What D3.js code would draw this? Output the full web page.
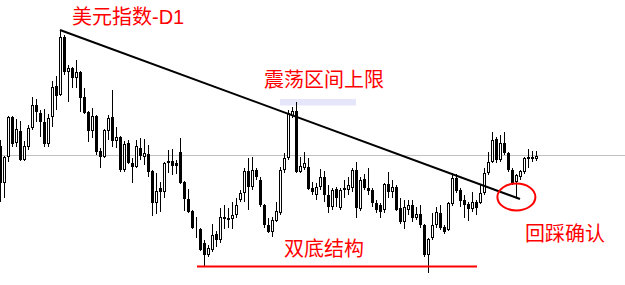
<!DOCTYPE html>
<html lang="zh">
<head>
    <meta charset="utf-8">
    <script src="https://d3js.org/d3.v7.min.js"></script>
    <style>
        html, body { margin: 0; padding: 0; background: #fff; }
        svg { display: block; }
        .note { font-family: "Noto Sans CJK SC", "Noto Sans", sans-serif; fill: #ff0000; font-size: 20px; }
        .latin { font-family: "Liberation Sans", Arial, sans-serif; }
    </style>
</head>
<body>
    <div id="graphique"></div>
    <script>
        // cours journaliers (indice dollar), une valeur par bougie
        const ouvertures = [93.9,90.2,92.8,96.8,94.2,95.4,92.5,93.8,95.7,98.0,97.2,96.3,94.1,96.8,99.9,99.0,104.8,101.3,101.7,100.7,
            101.3,98.8,97.3,95.4,96.9,93.4,92.8,95.4,96.8,94.4,94.8,91.5,94.2,92.2,91.8,93.7,92.8,93.1,91.4,88.2,
            89.7,89.3,92.4,92.4,92.2,93.3,90.3,88.6,87.4,85.7,85.6,84.2,83.0,83.5,85.1,84.5,86.8,86.5,86.6,87.0,
            88.5,89.2,91.4,89.8,91.5,90.5,88.0,86.0,85.3,86.4,87.2,91.5,92.7,96.9,97.4,91.3,91.7,91.8,89.7,89.0,
            89.8,90.8,89.0,87.8,89.6,87.7,89.7,89.5,89.7,91.5,87.6,90.6,89.7,89.5,88.2,88.0,87.5,90.1,89.3,89.8,
            87.7,86.3,87.5,88.0,86.7,87.1,86.0,83.0,84.7,86.0,87.2,85.8,85.5,88.1,90.7,89.5,88.5,88.1,87.6,88.3,
            88.2,89.2,91.2,92.3,94.6,92.5,94.2,93.2,91.5,90.3,90.8,91.3,92.8,92.8,92.6];
        const plusHauts = [94.5,92.9,96.9,96.9,96.6,96.4,94.4,96.0,98.8,98.6,97.5,97.6,97.1,100.4,100.9,105.5,105.0,102.0,101.8,102.5,
            101.4,99.7,97.4,97.7,97.0,93.7,95.6,97.0,99.5,95.8,94.9,94.4,94.5,92.7,94.5,94.7,94.6,94.0,91.5,91.2,
            90.3,92.3,93.5,93.6,92.5,94.7,90.4,89.6,87.5,86.8,85.7,84.5,84.0,86.1,85.4,87.7,88.0,87.7,88.3,88.7,
            89.5,91.7,92.7,92.8,91.7,90.8,88.1,86.7,86.8,88.3,91.8,93.2,97.5,97.8,98.3,92.8,93.3,92.7,90.3,90.2,
            91.6,91.4,90.0,89.7,89.8,89.7,90.5,90.8,91.7,92.3,90.8,91.1,91.7,89.7,88.5,88.2,90.2,91.3,90.5,90.0,
            88.7,88.5,88.5,88.5,87.8,88.0,86.1,84.7,87.2,87.8,88.0,86.0,88.3,91.2,91.1,89.7,89.0,88.3,89.3,88.5,
            90.0,91.7,93.3,95.3,94.8,95.0,95.3,93.3,91.7,91.1,91.5,92.8,93.6,93.4,93.4];
        const plusBas = [88.3,88.7,92.3,93.8,93.8,92.4,92.4,93.5,95.5,96.3,94.8,93.8,93.8,95.8,97.5,98.9,101.0,98.3,99.7,99.7,
            97.3,97.1,94.3,94.7,93.0,91.7,92.7,94.5,93.8,93.7,91.3,91.3,92.1,90.2,91.7,92.5,92.0,90.8,86.9,87.1,
            87.3,88.7,91.2,91.0,91.1,90.1,87.4,87.2,85.6,84.7,83.4,81.9,82.8,83.3,83.8,84.2,85.6,85.7,85.6,86.7,
            88.3,88.3,87.5,89.5,90.5,87.8,85.7,85.2,84.8,86.3,87.0,91.2,92.5,96.7,91.2,91.2,91.5,89.5,89.0,88.5,
            89.5,88.3,87.2,87.5,87.8,87.5,88.7,89.0,89.3,86.7,87.4,89.5,89.0,87.8,87.2,86.7,87.2,88.7,88.7,87.4,
            86.1,85.6,87.0,86.3,86.5,85.7,82.8,81.2,84.5,85.7,85.5,85.1,85.4,87.9,89.2,87.8,86.7,86.4,87.3,87.0,
            88.1,89.0,91.0,92.2,92.2,92.3,93.0,91.3,90.0,88.8,90.5,91.1,91.7,92.3,92.4];
        const clotures = [90.2,92.8,96.8,94.1,95.6,92.5,93.9,95.7,98.0,97.3,96.3,94.1,96.7,99.8,98.9,104.8,101.3,101.7,100.7,101.3,
            98.7,97.2,95.4,96.9,93.3,92.8,95.5,96.7,94.4,94.8,91.5,94.1,92.2,91.8,93.9,92.9,93.2,91.3,88.2,89.4,
            89.3,92.2,92.2,91.9,91.9,90.2,88.6,87.3,85.7,85.6,83.5,83.0,83.7,85.0,84.5,86.8,86.6,86.7,87.0,88.0,
            89.2,91.4,89.8,91.5,90.8,88.0,86.0,85.3,86.5,87.4,91.5,92.7,97.2,97.4,91.3,91.9,92.2,89.6,89.3,89.8,
            90.8,89.0,87.8,89.5,88.7,89.5,89.5,90.0,91.5,87.7,90.5,89.7,89.4,88.2,87.5,87.3,90.1,89.3,89.8,87.5,
            86.3,87.8,88.0,86.7,87.1,86.0,83.0,84.6,86.0,87.3,85.7,85.3,88.2,90.7,89.4,88.4,88.0,87.6,88.3,87.7,
            89.2,91.2,92.3,94.5,92.5,94.2,93.2,91.5,90.1,91.0,91.4,92.7,92.6,92.6,92.9];

        // niveaux et repères tracés sur le graphique
        const niveauGris = 93.0;
        const ligneTendance = [[15, 105.5], [130, 88.6]];
        const ligneDoubleBas = { de: 49.25, a: 119.25, prix: 81.85 };
        const zoneHaute = { de: 70, a: 89, haut: 98.6, bas: 97.95 };
        const cercleRetour = { i: 129.1, prix: 88.8 };

        const largeur = 625, hauteur = 285;
        const n = ouvertures.length;

        const x = d3.scaleLinear().domain([0, n - 1]).range([0, 4 * (n - 1)]);
        const y = d3.scaleLinear().domain([80, 108.5]).range([hauteur, 0]);

        const svg = d3.select("#graphique")
            .append("svg")
            .attr("width", largeur)
            .attr("height", hauteur);

        svg.append("rect").attr("width", largeur).attr("height", hauteur).attr("fill", "white");

        svg.append("line")
            .attr("x1", 0).attr("x2", largeur)
            .attr("y1", Math.round(y(niveauGris)) + 0.5)
            .attr("y2", Math.round(y(niveauGris)) + 0.5)
            .attr("stroke", "#c0c0c0")
            .attr("stroke-width", 1);

        svg.append("rect")
            .attr("x", x(zoneHaute.de))
            .attr("y", y(zoneHaute.haut))
            .attr("width", x(zoneHaute.a) - x(zoneHaute.de))
            .attr("height", y(zoneHaute.bas) - y(zoneHaute.haut))
            .attr("fill", "#e6e6fa");

        const bougies = d3.range(n).map(i => ({
            i: i, o: ouvertures[i], h: plusHauts[i], l: plusBas[i], c: clotures[i]
        }));

        const g = svg.append("g");
        bougies.forEach(b => {
            const cx = Math.round(x(b.i)) + 0.5;
            const hausse = b.c >= b.o;
            g.append("line")
                .attr("x1", cx).attr("x2", cx)
                .attr("y1", Math.round(y(b.h)))
                .attr("y2", Math.round(y(b.l)))
                .attr("stroke", "black")
                .attr("stroke-width", 1);
            const haut = Math.round(y(Math.max(b.o, b.c)));
            const bas = Math.round(y(Math.min(b.o, b.c)));
            g.append("rect")
                .attr("x", cx - 1)
                .attr("y", haut + 0.5)
                .attr("width", 2)
                .attr("height", Math.max(0, bas - haut - 1))
                .attr("fill", hausse ? "white" : "black")
                .attr("stroke", "black")
                .attr("stroke-width", 1);
        });

        svg.append("line")
            .attr("x1", x(ligneTendance[0][0])).attr("y1", y(ligneTendance[0][1]))
            .attr("x2", x(ligneTendance[1][0])).attr("y2", y(ligneTendance[1][1]))
            .attr("stroke", "black")
            .attr("stroke-width", 2);

        svg.append("line")
            .attr("x1", x(ligneDoubleBas.de)).attr("x2", x(ligneDoubleBas.a))
            .attr("y1", y(ligneDoubleBas.prix)).attr("y2", y(ligneDoubleBas.prix))
            .attr("stroke", "#ff0000")
            .attr("stroke-width", 2);

        svg.append("ellipse")
            .attr("cx", x(cercleRetour.i))
            .attr("cy", y(cercleRetour.prix))
            .attr("rx", 19)
            .attr("ry", 13.5)
            .attr("fill", "none")
            .attr("stroke", "#ff0000")
            .attr("stroke-width", 2);

        // titre : partie chinoise + "-D1" en police latine
        const titre = svg.append("text")
            .attr("class", "note")
            .attr("x", 72)
            .attr("y", 23.5);
        titre.append("tspan").text("美元指数");
        titre.append("tspan").attr("class", "latin").text("-D1");

        const textes = [
            { t: "震荡区间上限", x: 264, y: 87 },
            { t: "双底结构", x: 284, y: 256 },
            { t: "回踩确认", x: 525, y: 241 }
        ];
        svg.selectAll("text.etiquette")
            .data(textes)
            .enter()
            .append("text")
            .attr("class", "note etiquette")
            .attr("x", d => d.x)
            .attr("y", d => d.y)
            .text(d => d.t);
    </script>
</body>
</html>
